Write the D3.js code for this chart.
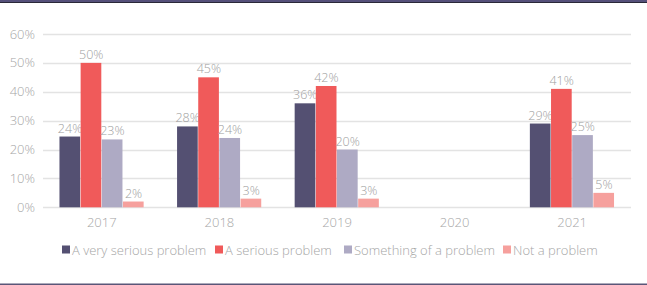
<!DOCTYPE html>
<html><head><meta charset="utf-8">
<script src="https://cdn.jsdelivr.net/npm/d3@7"></script>
<style>
html,body{margin:0;padding:0;background:#fff;}
svg{display:block;font-family:"Open Sans",sans-serif;font-weight:300;}
</style></head>
<body><svg id="c" width="647" height="285"></svg>
<script>
const categories = ["2017","2018","2019","2020","2021"];
const seriesNames = ["A very serious problem","A serious problem","Something of a problem","Not a problem"];
const verySerious = [24.5, 28, 36, null, 29];
const serious = [50, 45, 42, null, 41];
const somewhat = [23.5, 24, 20, null, 25];
const notProblem = [2, 3, 3, null, 5];
const yTicks = [0,10,20,30,40,50,60];
const colors = ["#545072","#f05a5a","#aeaac4","#f6a09d"];
const labelsTxt = [["24%","28%","36%","","29%"],["50%","45%","42%","","41%"],["23%","24%","20%","","25%"],["2%","3%","3%","","5%"]];

const series = [verySerious, serious, somewhat, notProblem];
const svg = d3.select("#c");

// frame lines
svg.append("rect").attr("x",0).attr("y",0).attr("width",647).attr("height",2.5).attr("fill","#55507a");
svg.append("rect").attr("x",0).attr("y",2).attr("width",647).attr("height",1).attr("fill","#2a2838");
svg.append("rect").attr("x",0).attr("y",283.5).attr("width",647).attr("height",1.5).attr("fill","#5a5678");

const x = d3.scaleBand().domain(categories).range([43,631]).paddingInner(0.28).paddingOuter(0.14);
const xs = d3.scaleBand().domain(d3.range(4)).range([0,x.bandwidth()]);
const y = d3.scaleLinear().domain([0,60]).range([207.3,34]);

// grid
svg.append("g").selectAll("line").data(yTicks).join("line")
  .attr("x1",43).attr("x2",631).attr("y1",d=>Math.round(y(d))+0.5).attr("y2",d=>Math.round(y(d))+0.5)
  .attr("stroke","#e3e3e3").attr("stroke-width",1.5);

// y labels
svg.append("g").selectAll("text").data(yTicks).join("text")
  .attr("x",35).attr("y",d=>y(d)).attr("dy","0.35em").attr("text-anchor","end")
  .attr("font-size",13).attr("fill","#a6a6a6").text(d=>d+"%");

// bars
series.forEach((s,si)=>{
  const g = svg.append("g");
  const data = categories.map((c,i)=>({c,v:s[i],l:labelsTxt[si][i]})).filter(d=>d.v!=null);
  g.selectAll("rect").data(data).join("rect")
    .attr("x",d=>x(d.c)+xs(si)).attr("width",xs.bandwidth()-0.5)
    .attr("y",d=>y(d.v)).attr("height",d=>y(0)-y(d.v)).attr("fill",colors[si]);
  g.selectAll("text").data(data).join("text")
    .attr("x",d=>x(d.c)+xs(si)+xs.bandwidth()/2).attr("y",d=>y(d.v)-4)
    .attr("text-anchor","middle").attr("font-size",12.5).attr("fill","#a0a0a0").text(d=>d.l);
});

// x labels
svg.append("g").selectAll("text").data(categories).join("text")
  .attr("x",d=>x(d)+x.bandwidth()/2).attr("y",227).attr("text-anchor","middle")
  .attr("font-size",13).attr("fill","#a6a6a6").text(d=>d);

// legend
const legX = [62, 215, 344, 503];
const lg = svg.append("g");
seriesNames.forEach((n,i)=>{
  lg.append("rect").attr("x",legX[i]).attr("y",245.5).attr("width",8).attr("height",8).attr("fill",colors[i]);
  lg.append("text").attr("x",legX[i]+10).attr("y",254.5).attr("font-size",13).attr("fill","#a6a6a6").text(n);
});
</script></body></html>
